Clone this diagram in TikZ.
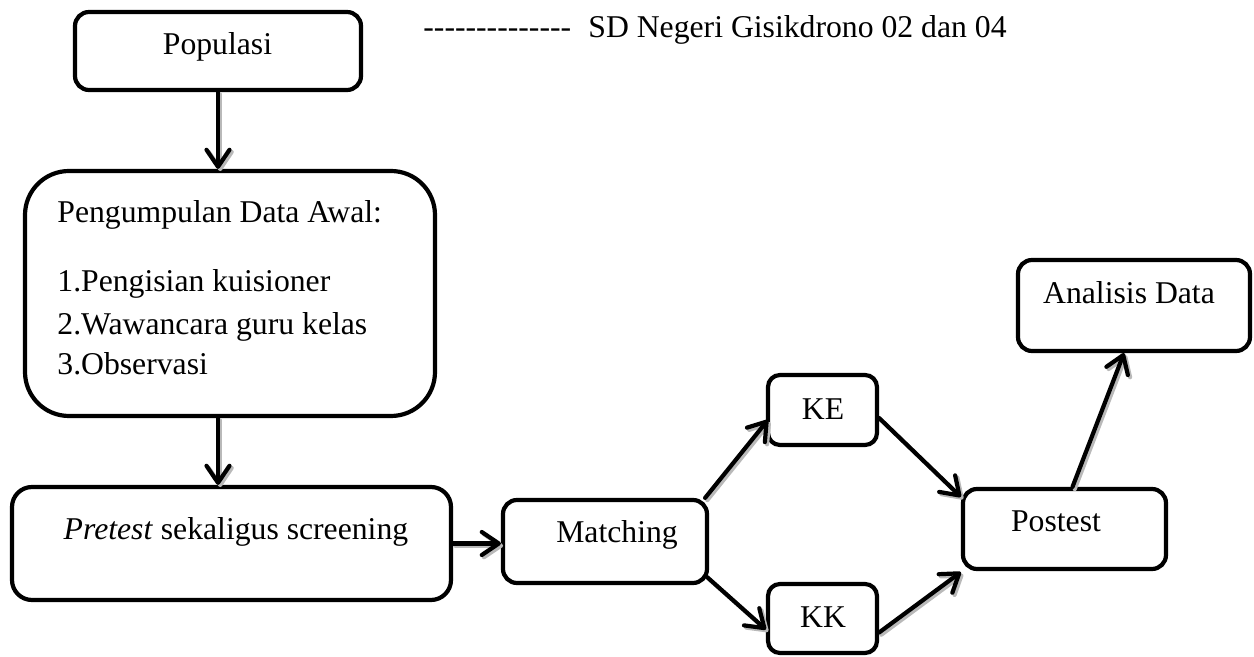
\documentclass[tikz,border=0pt]{standalone}
\usepackage{fontspec}
\setmainfont{Liberation Serif}
\newfontfamily\dashfont{Liberation Serif}[Ligatures=TeXOff]
\usetikzlibrary{arrows.meta,calc}

\tikzset{
  box/.style={draw, line width=2.1pt, inner sep=0pt, fill=white},
  txt/.style={inner sep=0pt, anchor=base, font=\fontsize{15.85}{19}\selectfont},
  txtl/.style={txt, anchor=base west},
  arr/.style={line width=2.1pt, line cap=round, -{Straight Barb[length=8.5pt,width=11.5pt,line cap=round,line join=round]}},
}

% all connectors of the flow; drawn once as a grey shadow and once in black
\newcommand\flowlinks{%
  \draw[arr] (pop.south) -- (pop.south |- awal.north);
  \draw[arr] (pop.south |- awal.south) -- (pop.south |- pre.north);
  \draw[arr] (pre.east) -- (pre.east -| match.west);
  \draw[arr] ($(match.north east)+(-4,0)$) -- ($(ke.west)+(2,10)$);
  \draw[arr] ($(match.south east)+(-2,-8)$) -- ($(kk.west)+(0,11)$);
  \draw[arr] ($(ke.east)+(0,8)$) -- ($(post.north west)+(0,10)$);
  \draw[arr] ($(kk.east)+(0,14)$) -- ($(post.south west)+(0,1)$);
  \draw[arr] ($(post.north)+(8,0)$) -- ($(ana.south)+(-10,0)$);
}

\begin{document}
\begin{tikzpicture}[x=0.5pt,y=-0.5pt]
\useasboundingbox (0,0) rectangle (1254,657);

% boxes
\node[box, rounded corners=7pt,  minimum width=143pt,   minimum height=39pt]   (pop)   at (218,51)     {};
\node[box, rounded corners=22pt, minimum width=205pt,   minimum height=122.5pt] (awal) at (230,293.5)  {};
\node[box, rounded corners=10pt, minimum width=219.5pt, minimum height=56.5pt] (pre)   at (231.5,543.5) {};
\node[box, rounded corners=7pt,  minimum width=102pt,   minimum height=41.5pt] (match) at (605,541.5)  {};
\node[box, rounded corners=6pt,  minimum width=54.5pt,  minimum height=35pt]   (ke)    at (822.5,410)  {};
\node[box, rounded corners=6pt,  minimum width=54.5pt,  minimum height=34.5pt] (kk)    at (822.5,618.5) {};
\node[box, rounded corners=7pt,  minimum width=101.5pt, minimum height=40pt]   (post)  at (1064.5,529) {};
\node[box, rounded corners=7pt,  minimum width=116pt,   minimum height=45.5pt] (ana)   at (1134,305.5) {};

% texts
\node[txt] (popT) at (217.5,55) {Populasi};
\node[txtl] (awal1) at (57,223) {Pengumpulan Data Awal:};
\node[txtl] (awal2) at (57,292) {1.Pengisian kuisioner};
\node[txtl] (awal3) at (57,335) {2.Wawancara guru kelas};
\node[txtl] (awal4) at (57,375) {3.Observasi};
\node[txt] (preT) at (236,540) {\textit{Pretest} sekaligus screening};
\node[txt] (matchT) at (617,543) {Matching};
\node[txt] (keT) at (823,420) {KE};
\node[txt] (kkT) at (823,627) {KK};
\node[txt] (postT) at (1056,532) {Postest};
\node[txt] (anaT) at (1129,304) {Analisis Data};
\node[txtl, font=\fontsize{15.85}{19}\dashfont] (dashT) at (423,38) {--------------};
\node[txtl] (sdT) at (588,38) {SD Negeri Gisikdrono 02 dan 04};

% connectors
\begin{scope}[gray!55, transform canvas={shift={(1.1pt,-1.1pt)}}]
  \flowlinks
\end{scope}
\flowlinks
\end{tikzpicture}
\end{document}
